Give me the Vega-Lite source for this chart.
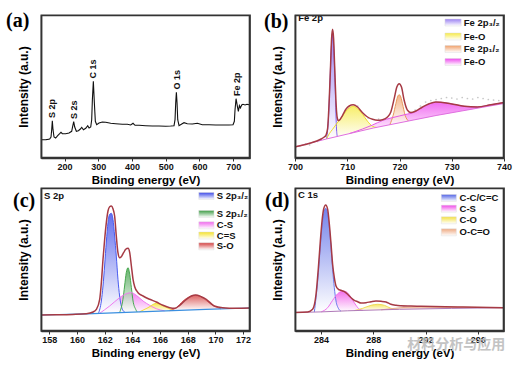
{
"$schema":"https://vega.github.io/schema/vega-lite/v6.json",
"padding":{"left":5,"top":10,"right":2,"bottom":2},
"columns":2,
"spacing":{"row":30,"column":45},
"bounds":"flush",
"resolve":{"scale":{"stroke":"independent"}},
"datasets":{
"a":[{"e":130,"v":18.3},{"e":143.8,"v":18.3},{"e":150,"v":18.6},{"e":155.7,"v":19},{"e":159.7,"v":21},{"e":161.7,"v":28.3},{"e":163.6,"v":37.3},{"e":165.6,"v":28.3},{"e":168.6,"v":21},{"e":173.5,"v":20},{"e":179.5,"v":22.3},{"e":185.4,"v":24.3},{"e":189.3,"v":25.7},{"e":193.3,"v":24.3},{"e":203.2,"v":24.3},{"e":213.1,"v":25},{"e":221,"v":26.7},{"e":224,"v":31.7},{"e":227,"v":36.3},{"e":230,"v":31},{"e":234.9,"v":26.7},{"e":240.9,"v":27.3},{"e":246.8,"v":29},{"e":250.8,"v":30.7},{"e":255.8,"v":28.3},{"e":262.7,"v":29.7},{"e":268.6,"v":32.3},{"e":272.6,"v":30},{"e":277.5,"v":31},{"e":280.4,"v":38.3},{"e":282.4,"v":58.3},{"e":285.3,"v":76.7},{"e":288.3,"v":55},{"e":291.2,"v":36.7},{"e":295.2,"v":33.3},{"e":302.1,"v":35},{"e":312,"v":36},{"e":321.9,"v":35.7},{"e":336.7,"v":34.7},{"e":351.6,"v":34.3},{"e":371.4,"v":33.7},{"e":386.2,"v":33.7},{"e":396.1,"v":33},{"e":403,"v":34.7},{"e":408.9,"v":32.7},{"e":420.8,"v":32.7},{"e":440.6,"v":32.3},{"e":460.4,"v":32},{"e":480.1,"v":32},{"e":499.9,"v":31.7},{"e":514.8,"v":32},{"e":524.6,"v":32.3},{"e":527.6,"v":38.3},{"e":529.6,"v":55},{"e":531.6,"v":65.7},{"e":533.6,"v":55},{"e":535.6,"v":38.3},{"e":539.5,"v":32.3},{"e":547.5,"v":34},{"e":554.3,"v":35.3},{"e":564.1,"v":34.3},{"e":579,"v":34},{"e":593.8,"v":34.7},{"e":608.6,"v":33.3},{"e":628.5,"v":33.3},{"e":648.3,"v":33},{"e":668,"v":33},{"e":687.8,"v":33},{"e":699.7,"v":33.3},{"e":703.6,"v":36.7},{"e":705.6,"v":48.3},{"e":708.6,"v":59.3},{"e":712.6,"v":51.7},{"e":715.5,"v":46.7},{"e":718.5,"v":52.3},{"e":721.5,"v":50},{"e":725.4,"v":53},{"e":729.3,"v":53.7},{"e":735.3,"v":53},{"e":741.2,"v":53.7},{"e":747.2,"v":53.3},{"e":750,"v":53.3}],
"alab":[{"e":162,"v":40,"t":"S 2p"},{"e":227,"v":39,"t":"S 2s"},{"e":285.5,"v":79.5,"t":"C 1s"},{"e":533,"v":68.5,"t":"O 1s"},{"e":710,"v":62,"t":"Fe 2p"}],
"b":[
{"s":"env","e":700,"v":11},{"s":"env","e":701,"v":12.3},{"s":"env","e":702,"v":13.6},{"s":"env","e":703,"v":15},{"s":"env","e":704,"v":16.7},{"s":"env","e":705,"v":19},{"s":"env","e":705.6,"v":21},{"s":"env","e":705.92,"v":22.7},{"s":"env","e":706.24,"v":29.3},{"s":"env","e":706.56,"v":59.3},{"s":"env","e":706.81,"v":92.7},{"s":"env","e":707.0,"v":119.3},{"s":"env","e":707.19,"v":128.7},{"s":"env","e":707.39,"v":119.3},{"s":"env","e":707.58,"v":92.7},{"s":"env","e":707.83,"v":58},{"s":"env","e":707.96,"v":46},{"s":"env","e":708.09,"v":40},{"s":"env","e":708.28,"v":37.5},{"s":"env","e":708.47,"v":37.7},{"s":"env","e":709.11,"v":42.7},{"s":"env","e":709.74,"v":48.7},{"s":"env","e":710.38,"v":52},{"s":"env","e":711.14,"v":53.3},{"s":"env","e":711.97,"v":51},{"s":"env","e":712.93,"v":45.3},{"s":"env","e":713.88,"v":41},{"s":"env","e":714.84,"v":38.7},{"s":"env","e":715.79,"v":37.7},{"s":"env","e":716.75,"v":38.3},{"s":"env","e":717.71,"v":41},{"s":"env","e":718.34,"v":46},{"s":"env","e":718.98,"v":59.3},{"s":"env","e":719.49,"v":71},{"s":"env","e":719.94,"v":74.3},{"s":"env","e":720.38,"v":71},{"s":"env","e":720.89,"v":57.7},{"s":"env","e":721.53,"v":47.7},{"s":"env","e":722.17,"v":45.5},{"s":"env","e":723.12,"v":47},{"s":"env","e":724.4,"v":51},{"s":"env","e":725.67,"v":54.3},{"s":"env","e":726.94,"v":56},{"s":"env","e":727.9,"v":55.7},{"s":"env","e":729.8,"v":54.3},{"s":"env","e":732.4,"v":51.7},{"s":"env","e":734.9,"v":51},{"s":"env","e":737.5,"v":53.3},{"s":"env","e":740,"v":55.5},
{"s":"bg","e":700,"v":11},{"s":"bg","e":706,"v":19},{"s":"bg","e":715,"v":30},{"s":"bg","e":727,"v":42.5},{"s":"bg","e":740,"v":54.5},
{"s":"p32","e":706.05,"v":19.06,"bg":19.06},{"s":"p32","e":706.43,"v":42.7,"bg":19.5},{"s":"p32","e":706.69,"v":76,"bg":19.8},{"s":"p32","e":706.94,"v":109.3,"bg":20.1},{"s":"p32","e":707.19,"v":124.3,"bg":20.5},{"s":"p32","e":707.45,"v":106,"bg":20.8},{"s":"p32","e":707.7,"v":70,"bg":21.1},{"s":"p32","e":707.83,"v":45,"bg":21.2},{"s":"p32","e":707.96,"v":28,"bg":21.4},{"s":"p32","e":708.1,"v":21.6,"bg":21.6},
{"s":"FeO1","e":706.05,"v":19.06,"bg":19.06},{"s":"FeO1","e":706.56,"v":24.3,"bg":19.7},{"s":"FeO1","e":707.19,"v":28.7,"bg":20.5},{"s":"FeO1","e":707.83,"v":33.3,"bg":21.2},{"s":"FeO1","e":708.47,"v":37.7,"bg":22},{"s":"FeO1","e":709.11,"v":42,"bg":22.8},{"s":"FeO1","e":709.74,"v":46.7,"bg":23.6},{"s":"FeO1","e":710.38,"v":50,"bg":24.4},{"s":"FeO1","e":711.14,"v":51.7,"bg":25.3},{"s":"FeO1","e":711.97,"v":49.3,"bg":26.3},{"s":"FeO1","e":712.93,"v":43.7,"bg":27.5},{"s":"FeO1","e":713.88,"v":36.7,"bg":28.6},{"s":"FeO1","e":714.84,"v":31.7,"bg":29.8},{"s":"FeO1","e":715.6,"v":30.6,"bg":30.6},
{"s":"p12","e":718.15,"v":33.3,"bg":33.3},{"s":"p12","e":718.79,"v":42.7,"bg":33.9},{"s":"p12","e":719.3,"v":54.3,"bg":34.5},{"s":"p12","e":719.62,"v":61,"bg":34.8},{"s":"p12","e":719.94,"v":63.3,"bg":35.1},{"s":"p12","e":720.25,"v":61,"bg":35.5},{"s":"p12","e":720.57,"v":54.3,"bg":35.8},{"s":"p12","e":721.08,"v":42.7,"bg":36.3},{"s":"p12","e":721.72,"v":37,"bg":37},
{"s":"FeO2","e":710.38,"v":24.4,"bg":24.4},{"s":"FeO2","e":712.93,"v":29,"bg":27.5},{"s":"FeO2","e":714.84,"v":33,"bg":29.8},{"s":"FeO2","e":716.75,"v":37.5,"bg":31.8},{"s":"FeO2","e":718.34,"v":40,"bg":33.5},{"s":"FeO2","e":719.94,"v":42,"bg":35.1},{"s":"FeO2","e":721.53,"v":44,"bg":36.8},{"s":"FeO2","e":722.5,"v":45,"bg":37.8},{"s":"FeO2","e":723.12,"v":46.5,"bg":38.5},{"s":"FeO2","e":724.4,"v":50.5,"bg":39.8},{"s":"FeO2","e":725.67,"v":54,"bg":41.1},{"s":"FeO2","e":726.94,"v":55.7,"bg":42.4},{"s":"FeO2","e":727.9,"v":55.7,"bg":43.3},{"s":"FeO2","e":729.8,"v":54.3,"bg":45.1},{"s":"FeO2","e":732.4,"v":51.7,"bg":47.5},{"s":"FeO2","e":734.9,"v":51,"bg":49.8},{"s":"FeO2","e":737.5,"v":53.3,"bg":52.2},{"s":"FeO2","e":740,"v":55.5,"bg":54.5}
],
"braw":[{"e":701,"v":12.5},{"e":702,"v":14.2},{"e":702.8,"v":13.2},{"e":703.5,"v":15.8},{"e":704.3,"v":16.5},{"e":705,"v":18.5},{"e":712,"v":52},{"e":714,"v":40},{"e":716,"v":39},{"e":723,"v":48},{"e":724,"v":52},{"e":725,"v":56},{"e":726,"v":57.5},{"e":727,"v":58.5},{"e":728,"v":59.5},{"e":729,"v":60.5},{"e":730,"v":60},{"e":731,"v":59},{"e":732,"v":60.5},{"e":733,"v":59.5},{"e":734,"v":59},{"e":735,"v":60.5},{"e":736,"v":59.5},{"e":737,"v":58.5},{"e":738,"v":58},{"e":739,"v":57.5}],
"c":[
{"s":"env","e":157.4,"v":16},{"s":"env","e":158.5,"v":16.2},{"s":"env","e":159.69,"v":16.6},{"s":"env","e":160.68,"v":17.3},{"s":"env","e":161.16,"v":19},{"s":"env","e":161.4,"v":21.7},{"s":"env","e":161.64,"v":31.7},{"s":"env","e":161.76,"v":48.3},{"s":"env","e":161.88,"v":71.7},{"s":"env","e":162.0,"v":91.7},{"s":"env","e":162.12,"v":108.3},{"s":"env","e":162.24,"v":120},{"s":"env","e":162.36,"v":124.3},{"s":"env","e":162.48,"v":125},{"s":"env","e":162.6,"v":122.3},{"s":"env","e":162.72,"v":115},{"s":"env","e":162.84,"v":95},{"s":"env","e":162.96,"v":78.3},{"s":"env","e":163.08,"v":73.3},{"s":"env","e":163.2,"v":74.3},{"s":"env","e":163.37,"v":78.3},{"s":"env","e":163.52,"v":81.7},{"s":"env","e":163.69,"v":82.7},{"s":"env","e":163.81,"v":78.3},{"s":"env","e":163.93,"v":65},{"s":"env","e":164.05,"v":51.7},{"s":"env","e":164.17,"v":44.3},{"s":"env","e":164.41,"v":38.3},{"s":"env","e":164.77,"v":35},{"s":"env","e":165.25,"v":31.7},{"s":"env","e":165.73,"v":29},{"s":"env","e":166.21,"v":25.7},{"s":"env","e":166.7,"v":23.3},{"s":"env","e":167.06,"v":22.7},{"s":"env","e":167.42,"v":25.7},{"s":"env","e":167.9,"v":31.7},{"s":"env","e":168.26,"v":35},{"s":"env","e":168.57,"v":36},{"s":"env","e":168.98,"v":34.3},{"s":"env","e":169.34,"v":31.7},{"s":"env","e":169.92,"v":25},{"s":"env","e":170.52,"v":23.3},{"s":"env","e":171.49,"v":22.8},{"s":"env","e":172.5,"v":23},
{"s":"bg","e":157.4,"v":16},{"s":"bg","e":160.7,"v":17.2},{"s":"bg","e":165,"v":19.45},{"s":"bg","e":169.3,"v":21.7},{"s":"bg","e":172.5,"v":23},
{"s":"S 2p₃/₂","e":161.55,"v":17.65,"bg":17.65},{"s":"S 2p₃/₂","e":161.76,"v":30,"bg":17.75},{"s":"S 2p₃/₂","e":161.88,"v":45,"bg":17.82},{"s":"S 2p₃/₂","e":162.0,"v":66,"bg":17.88},{"s":"S 2p₃/₂","e":162.12,"v":89,"bg":17.94},{"s":"S 2p₃/₂","e":162.24,"v":108.3,"bg":18},{"s":"S 2p₃/₂","e":162.36,"v":116.7,"bg":18.07},{"s":"S 2p₃/₂","e":162.48,"v":117.7,"bg":18.13},{"s":"S 2p₃/₂","e":162.6,"v":111.7,"bg":18.19},{"s":"S 2p₃/₂","e":162.72,"v":95,"bg":18.26},{"s":"S 2p₃/₂","e":162.84,"v":75,"bg":18.32},{"s":"S 2p₃/₂","e":162.96,"v":51.7,"bg":18.38},{"s":"S 2p₃/₂","e":163.08,"v":35,"bg":18.44},{"s":"S 2p₃/₂","e":163.28,"v":21.7,"bg":18.55},{"s":"S 2p₃/₂","e":163.47,"v":18.65,"bg":18.65},
{"s":"S 2p₁/₂","e":163.08,"v":18.44,"bg":18.44},{"s":"S 2p₁/₂","e":163.32,"v":31.7,"bg":18.57},{"s":"S 2p₁/₂","e":163.44,"v":45,"bg":18.63},{"s":"S 2p₁/₂","e":163.56,"v":58.3,"bg":18.7},{"s":"S 2p₁/₂","e":163.69,"v":63.3,"bg":18.76},{"s":"S 2p₁/₂","e":163.81,"v":56.7,"bg":18.83},{"s":"S 2p₁/₂","e":163.93,"v":43.3,"bg":18.89},{"s":"S 2p₁/₂","e":164.05,"v":30,"bg":18.95},{"s":"S 2p₁/₂","e":164.24,"v":21.7,"bg":19.05},{"s":"S 2p₁/₂","e":164.34,"v":19.1,"bg":19.1},
{"s":"C-S","e":161.64,"v":17.69,"bg":17.69},{"s":"C-S","e":162.36,"v":25,"bg":18.07},{"s":"C-S","e":163.08,"v":33.3,"bg":18.44},{"s":"C-S","e":163.56,"v":37.3,"bg":18.7},{"s":"C-S","e":163.93,"v":38.3,"bg":18.89},{"s":"C-S","e":164.29,"v":35.7,"bg":19.08},{"s":"C-S","e":164.77,"v":30,"bg":19.33},{"s":"C-S","e":165.25,"v":25.7,"bg":19.58},{"s":"C-S","e":165.73,"v":22.3,"bg":19.83},{"s":"C-S","e":166.33,"v":20.14,"bg":20.14},
{"s":"C=S","e":164.53,"v":19.2,"bg":19.2},{"s":"C=S","e":165.13,"v":23.3,"bg":19.52},{"s":"C=S","e":165.73,"v":27.7,"bg":19.83},{"s":"C=S","e":166.33,"v":24.3,"bg":20.14},{"s":"C=S","e":166.98,"v":20.48,"bg":20.48},
{"s":"S-O","e":166.7,"v":20.34,"bg":20.34},{"s":"S-O","e":167.18,"v":23.3,"bg":20.59},{"s":"S-O","e":167.66,"v":30,"bg":20.84},{"s":"S-O","e":168.14,"v":34.3,"bg":21.09},{"s":"S-O","e":168.57,"v":35.7,"bg":21.32},{"s":"S-O","e":168.98,"v":34.3,"bg":21.53},{"s":"S-O","e":169.32,"v":30.7,"bg":21.71},{"s":"S-O","e":169.8,"v":25.7,"bg":21.9},{"s":"S-O","e":170.4,"v":22.15,"bg":22.15}
],
"d":[
{"s":"env","e":282,"v":18.6},{"s":"env","e":282.97,"v":19},{"s":"env","e":283.35,"v":21.7},{"s":"env","e":283.61,"v":36.7},{"s":"env","e":283.79,"v":63.3},{"s":"env","e":283.94,"v":90},{"s":"env","e":284.07,"v":110},{"s":"env","e":284.19,"v":121.7},{"s":"env","e":284.35,"v":126},{"s":"env","e":284.5,"v":121.7},{"s":"env","e":284.63,"v":106.7},{"s":"env","e":284.76,"v":86.7},{"s":"env","e":284.88,"v":66.7},{"s":"env","e":285.01,"v":53.3},{"s":"env","e":285.14,"v":45},{"s":"env","e":285.32,"v":41.7},{"s":"env","e":285.52,"v":40.7},{"s":"env","e":285.78,"v":39.3},{"s":"env","e":286.03,"v":36.7},{"s":"env","e":286.29,"v":33.3},{"s":"env","e":286.54,"v":30.7},{"s":"env","e":286.8,"v":29.3},{"s":"env","e":287.05,"v":28},{"s":"env","e":287.44,"v":28.3},{"s":"env","e":287.82,"v":29.3},{"s":"env","e":288.2,"v":30},{"s":"env","e":288.59,"v":29.7},{"s":"env","e":288.97,"v":29},{"s":"env","e":289.34,"v":26.7},{"s":"env","e":289.73,"v":25.7},{"s":"env","e":290.11,"v":25.3},{"s":"env","e":290.88,"v":25},{"s":"env","e":291.65,"v":24.7},{"s":"env","e":294.45,"v":24},{"s":"env","e":298,"v":23.3},
{"s":"bg","e":282,"v":18.5},{"s":"bg","e":284,"v":19.1},{"s":"bg","e":286,"v":20.2},{"s":"bg","e":290,"v":21.7},{"s":"bg","e":294,"v":22.6},{"s":"bg","e":298,"v":23.3},
{"s":"C-C/C=C","e":283.48,"v":18.94,"bg":18.94},{"s":"C-C/C=C","e":283.61,"v":33.3,"bg":18.98},{"s":"C-C/C=C","e":283.79,"v":58.3,"bg":19.04},{"s":"C-C/C=C","e":283.94,"v":85,"bg":19.08},{"s":"C-C/C=C","e":284.07,"v":105,"bg":19.14},{"s":"C-C/C=C","e":284.19,"v":117.3,"bg":19.2},{"s":"C-C/C=C","e":284.35,"v":122.7,"bg":19.29},{"s":"C-C/C=C","e":284.5,"v":117.3,"bg":19.38},{"s":"C-C/C=C","e":284.63,"v":103.3,"bg":19.45},{"s":"C-C/C=C","e":284.76,"v":83.3,"bg":19.52},{"s":"C-C/C=C","e":284.88,"v":61.7,"bg":19.58},{"s":"C-C/C=C","e":285.01,"v":43.3,"bg":19.66},{"s":"C-C/C=C","e":285.14,"v":30,"bg":19.73},{"s":"C-C/C=C","e":285.32,"v":22.7,"bg":19.83},{"s":"C-C/C=C","e":285.52,"v":19.94,"bg":19.94},
{"s":"C-S","e":284,"v":19.1,"bg":19.1},{"s":"C-S","e":284.5,"v":23.3,"bg":19.38},{"s":"C-S","e":284.88,"v":30.7,"bg":19.58},{"s":"C-S","e":285.27,"v":37.3,"bg":19.8},{"s":"C-S","e":285.65,"v":40,"bg":20},{"s":"C-S","e":285.91,"v":39.3,"bg":20.15},{"s":"C-S","e":286.16,"v":36,"bg":20.26},{"s":"C-S","e":286.42,"v":30.7,"bg":20.36},{"s":"C-S","e":286.67,"v":25.7,"bg":20.45},{"s":"C-S","e":286.93,"v":21.7,"bg":20.55},{"s":"C-S","e":287.19,"v":20.65,"bg":20.65},
{"s":"C-O","e":286.54,"v":20.4,"bg":20.4},{"s":"C-O","e":287.19,"v":22.7,"bg":20.65},{"s":"C-O","e":287.82,"v":25.7,"bg":20.88},{"s":"C-O","e":288.33,"v":26.7,"bg":21.07},{"s":"C-O","e":288.84,"v":25.7,"bg":21.27},{"s":"C-O","e":289.34,"v":22.7,"bg":21.45},{"s":"C-O","e":289.86,"v":21.65,"bg":21.65},
{"s":"O-C=O","e":288.59,"v":21.17,"bg":21.17},{"s":"O-C=O","e":289.34,"v":22.3,"bg":21.45},{"s":"O-C=O","e":290.11,"v":23.3,"bg":21.72},{"s":"O-C=O","e":290.88,"v":24,"bg":21.9},{"s":"O-C=O","e":291.65,"v":24.3,"bg":22.07},{"s":"O-C=O","e":293.2,"v":24,"bg":22.4},{"s":"O-C=O","e":295.7,"v":23.6,"bg":22.9},{"s":"O-C=O","e":298,"v":23.3,"bg":23.3}
]
},
"concat":[
{"width":209,"height":143,
 "title":{"text":"(a)","dx":-35,"offset":-18},
 "data":{"name":"a"},
 "encoding":{
  "x":{"field":"e","type":"quantitative","scale":{"domain":[130,750],"nice":false,"zero":false},"axis":{"values":[200,300,400,500,600,700],"title":"Binding energy (eV)"}},
  "y":{"field":"v","type":"quantitative","scale":{"domain":[0,143],"nice":false,"zero":false},"axis":{"title":"Intensity (a.u.)"}}
 },
 "layer":[
  {"mark":{"type":"line","color":"#111111","strokeWidth":1.1}},
  {"data":{"name":"alab"},"mark":{"type":"text","angle":270,"align":"left","baseline":"middle","fontSize":9,"fontWeight":"bold","color":"#111111"},"encoding":{"text":{"field":"t","type":"nominal"}}},
  {"data":{"values":[{"i":0,"e":131.8,"v":0.6},{"i":1,"e":748.2,"v":0.6},{"i":2,"e":748.2,"v":142.4},{"i":3,"e":131.8,"v":142.4},{"i":4,"e":131.8,"v":0.6}]},"mark":{"type":"line","color":"#333333","strokeWidth":1.4},"encoding":{"order":{"field":"i","type":"quantitative"}}}
 ]
},
{"width":209,"height":143,
 "title":{"text":"(b)","dx":-31,"offset":-19},
 "data":{"name":"b"},
 "encoding":{
  "x":{"field":"e","type":"quantitative","scale":{"domain":[700,740],"nice":false,"zero":false},"axis":{"values":[700,710,720,730,740],"title":"Binding energy (eV)"}},
  "y":{"field":"v","type":"quantitative","scale":{"domain":[0,143],"nice":false,"zero":false},"axis":{"title":"Intensity (a.u.)"}}
 },
 "layer":[
  {"transform":[{"filter":"datum.s == 'FeO2'"}],"mark":{"type":"area","interpolate":"monotone","fillOpacity":0.8,"fill":{"gradient":"linear","x1":0,"y1":0,"x2":0,"y2":1,"stops":[{"offset":0,"color":"#ee48ee"},{"offset":1,"color":"#ffffff"}]}},"encoding":{"y2":{"field":"bg"}}},
  {"transform":[{"filter":"datum.s == 'FeO1'"}],"mark":{"type":"area","interpolate":"monotone","fillOpacity":0.8,"fill":{"gradient":"linear","x1":0,"y1":0,"x2":0,"y2":1,"stops":[{"offset":0,"color":"#f6ea45"},{"offset":1,"color":"#ffffff"}]}},"encoding":{"y2":{"field":"bg"}}},
  {"transform":[{"filter":"datum.s == 'p12'"}],"mark":{"type":"area","interpolate":"monotone","fillOpacity":0.8,"fill":{"gradient":"linear","x1":0,"y1":0,"x2":0,"y2":1,"stops":[{"offset":0,"color":"#f0a06a"},{"offset":1,"color":"#ffffff"}]}},"encoding":{"y2":{"field":"bg"}}},
  {"transform":[{"filter":"datum.s == 'p32'"}],"mark":{"type":"area","interpolate":"monotone","fillOpacity":0.8,"fill":{"gradient":"linear","x1":0,"y1":0,"x2":0,"y2":1,"stops":[{"offset":0,"color":"#8466f0"},{"offset":1,"color":"#ffffff"}]}},"encoding":{"y2":{"field":"bg"}}},
  {"transform":[{"filter":"isValid(datum.bg)"}],"mark":{"type":"line","interpolate":"monotone","strokeWidth":1},
   "encoding":{"stroke":{"field":"s","type":"nominal","scale":{"domain":["p32","FeO1","p12","FeO2"],"range":["#7c5cf0","#eedc2c","#e8985c","#e458e4"]},"legend":null}}},
  {"data":{"name":"braw"},"mark":{"type":"circle","size":3,"color":"#b8b8b8","opacity":0.8}},
  {"transform":[{"filter":"datum.s == 'bg'"}],"mark":{"type":"line","color":"#e070e0","strokeWidth":1}},
  {"transform":[{"filter":"datum.s == 'env'"}],"mark":{"type":"line","interpolate":"monotone","color":"#a63a44","strokeWidth":1.5}},
  {"data":{"values":[{"e":700.6,"v":140,"t":"Fe 2p"},{"e":732.3,"v":135.5,"t":"Fe 2p₃/₂"},{"e":732.3,"v":121.5,"t":"Fe-O"},{"e":732.3,"v":109,"t":"Fe 2p₁/₂"},{"e":732.3,"v":96,"t":"Fe-O"}]},"mark":{"type":"text","align":"left","baseline":"middle","fontSize":9.5,"fontWeight":"bold","color":"#111111"},"encoding":{"text":{"field":"t","type":"nominal"}}},
  {"data":{"values":[{"e":728.7,"e2":731.8,"v":139,"v2":132}]},"mark":{"type":"rect","stroke":"#dddddd","strokeWidth":0.5,"fill":{"gradient":"linear","x1":0,"y1":0,"x2":0,"y2":1,"stops":[{"offset":0,"color":"#9a80f2"},{"offset":1,"color":"#ffffff"}]}},"encoding":{"x2":{"field":"e2"},"y2":{"field":"v2"}}},
  {"data":{"values":[{"e":728.7,"e2":731.8,"v":125,"v2":118}]},"mark":{"type":"rect","stroke":"#dddddd","strokeWidth":0.5,"fill":{"gradient":"linear","x1":0,"y1":0,"x2":0,"y2":1,"stops":[{"offset":0,"color":"#f6ea45"},{"offset":1,"color":"#ffffff"}]}},"encoding":{"x2":{"field":"e2"},"y2":{"field":"v2"}}},
  {"data":{"values":[{"e":728.7,"e2":731.8,"v":112.5,"v2":105.5}]},"mark":{"type":"rect","stroke":"#dddddd","strokeWidth":0.5,"fill":{"gradient":"linear","x1":0,"y1":0,"x2":0,"y2":1,"stops":[{"offset":0,"color":"#f0a06a"},{"offset":1,"color":"#ffffff"}]}},"encoding":{"x2":{"field":"e2"},"y2":{"field":"v2"}}},
  {"data":{"values":[{"e":728.7,"e2":731.8,"v":99.5,"v2":92.5}]},"mark":{"type":"rect","stroke":"#dddddd","strokeWidth":0.5,"fill":{"gradient":"linear","x1":0,"y1":0,"x2":0,"y2":1,"stops":[{"offset":0,"color":"#ee48ee"},{"offset":1,"color":"#ffffff"}]}},"encoding":{"x2":{"field":"e2"},"y2":{"field":"v2"}}},
  {"data":{"values":[{"i":0,"e":700.115,"v":0.6},{"i":1,"e":739.885,"v":0.6},{"i":2,"e":739.885,"v":142.4},{"i":3,"e":700.115,"v":142.4},{"i":4,"e":700.115,"v":0.6}]},"mark":{"type":"line","color":"#333333","strokeWidth":1.4},"encoding":{"order":{"field":"i","type":"quantitative"}}}
 ]
},
{"width":209,"height":143,
 "title":{"text":"(c)","dx":-28,"offset":-25},
 "data":{"name":"c"},
 "encoding":{
  "x":{"field":"e","type":"quantitative","scale":{"domain":[157.4,172.5],"nice":false,"zero":false},"axis":{"values":[158,160,162,164,166,168,170,172],"title":"Binding energy (eV)"}},
  "y":{"field":"v","type":"quantitative","scale":{"domain":[0,143],"nice":false,"zero":false},"axis":{"title":"Intensity (a.u.)"}}
 },
 "layer":[
  {"transform":[{"filter":"datum.s == 'C-S'"}],"mark":{"type":"area","interpolate":"monotone","fillOpacity":0.8,"fill":{"gradient":"linear","x1":0,"y1":0,"x2":0,"y2":1,"stops":[{"offset":0,"color":"#f066ee"},{"offset":1,"color":"#ffffff"}]}},"encoding":{"y2":{"field":"bg"}}},
  {"transform":[{"filter":"datum.s == 'C=S'"}],"mark":{"type":"area","interpolate":"monotone","fillOpacity":0.8,"fill":{"gradient":"linear","x1":0,"y1":0,"x2":0,"y2":1,"stops":[{"offset":0,"color":"#f5e228"},{"offset":1,"color":"#ffffff"}]}},"encoding":{"y2":{"field":"bg"}}},
  {"transform":[{"filter":"datum.s == 'S-O'"}],"mark":{"type":"area","interpolate":"monotone","fillOpacity":0.8,"fill":{"gradient":"linear","x1":0,"y1":0,"x2":0,"y2":1,"stops":[{"offset":0,"color":"#d43e3e"},{"offset":1,"color":"#ffffff"}]}},"encoding":{"y2":{"field":"bg"}}},
  {"transform":[{"filter":"datum.s == 'S 2p₃/₂'"}],"mark":{"type":"area","interpolate":"monotone","fillOpacity":0.8,"fill":{"gradient":"linear","x1":0,"y1":0,"x2":0,"y2":1,"stops":[{"offset":0,"color":"#3d4ae8"},{"offset":1,"color":"#ffffff"}]}},"encoding":{"y2":{"field":"bg"}}},
  {"transform":[{"filter":"datum.s == 'S 2p₁/₂'"}],"mark":{"type":"area","interpolate":"monotone","fillOpacity":0.8,"fill":{"gradient":"linear","x1":0,"y1":0,"x2":0,"y2":1,"stops":[{"offset":0,"color":"#3d9c45"},{"offset":1,"color":"#ffffff"}]}},"encoding":{"y2":{"field":"bg"}}},
  {"transform":[{"filter":"isValid(datum.bg)"}],"mark":{"type":"line","interpolate":"monotone","strokeWidth":1},
   "encoding":{"stroke":{"field":"s","type":"nominal","scale":{"domain":["S 2p₃/₂","S 2p₁/₂","C-S","C=S","S-O"],"range":["#4a5cf0","#47a94f","#f07cf0","#f0dc40","#dd5a5a"]},"legend":null}}},
  {"transform":[{"filter":"datum.s == 'bg'"}],"mark":{"type":"line","color":"#3a8fe0","strokeWidth":1.2}},
  {"transform":[{"filter":"datum.s == 'env'"}],"mark":{"type":"line","interpolate":"monotone","color":"#a63a44","strokeWidth":1.5}},
  {"data":{"values":[{"e":157.62,"v":135.5,"t":"S 2p"},{"e":170.1,"v":135,"t":"S 2p₃/₂"},{"e":170.1,"v":117,"t":"S 2p₁/₂"},{"e":170.1,"v":105.7,"t":"C-S"},{"e":170.1,"v":95.5,"t":"C=S"},{"e":170.1,"v":84.7,"t":"S-O"}]},"mark":{"type":"text","align":"left","baseline":"middle","fontSize":9.5,"fontWeight":"bold","color":"#111111"},"encoding":{"text":{"field":"t","type":"nominal"}}},
  {"data":{"values":[{"e":168.8,"e2":169.9,"v":138.5,"v2":131.5}]},"mark":{"type":"rect","stroke":"#dddddd","strokeWidth":0.5,"fill":{"gradient":"linear","x1":0,"y1":0,"x2":0,"y2":1,"stops":[{"offset":0,"color":"#3d4ae8"},{"offset":1,"color":"#ffffff"}]}},"encoding":{"x2":{"field":"e2"},"y2":{"field":"v2"}}},
  {"data":{"values":[{"e":168.8,"e2":169.9,"v":120.5,"v2":113.5}]},"mark":{"type":"rect","stroke":"#dddddd","strokeWidth":0.5,"fill":{"gradient":"linear","x1":0,"y1":0,"x2":0,"y2":1,"stops":[{"offset":0,"color":"#3d9c45"},{"offset":1,"color":"#ffffff"}]}},"encoding":{"x2":{"field":"e2"},"y2":{"field":"v2"}}},
  {"data":{"values":[{"e":168.8,"e2":169.9,"v":109.2,"v2":102.2}]},"mark":{"type":"rect","stroke":"#dddddd","strokeWidth":0.5,"fill":{"gradient":"linear","x1":0,"y1":0,"x2":0,"y2":1,"stops":[{"offset":0,"color":"#f066ee"},{"offset":1,"color":"#ffffff"}]}},"encoding":{"x2":{"field":"e2"},"y2":{"field":"v2"}}},
  {"data":{"values":[{"e":168.8,"e2":169.9,"v":99,"v2":92}]},"mark":{"type":"rect","stroke":"#dddddd","strokeWidth":0.5,"fill":{"gradient":"linear","x1":0,"y1":0,"x2":0,"y2":1,"stops":[{"offset":0,"color":"#f5e228"},{"offset":1,"color":"#ffffff"}]}},"encoding":{"x2":{"field":"e2"},"y2":{"field":"v2"}}},
  {"data":{"values":[{"e":168.8,"e2":169.9,"v":88.2,"v2":81.2}]},"mark":{"type":"rect","stroke":"#dddddd","strokeWidth":0.5,"fill":{"gradient":"linear","x1":0,"y1":0,"x2":0,"y2":1,"stops":[{"offset":0,"color":"#d43e3e"},{"offset":1,"color":"#ffffff"}]}},"encoding":{"x2":{"field":"e2"},"y2":{"field":"v2"}}},
  {"data":{"values":[{"i":0,"e":157.443,"v":0.6},{"i":1,"e":172.457,"v":0.6},{"i":2,"e":172.457,"v":142.4},{"i":3,"e":157.443,"v":142.4},{"i":4,"e":157.443,"v":0.6}]},"mark":{"type":"line","color":"#333333","strokeWidth":1.4},"encoding":{"order":{"field":"i","type":"quantitative"}}}
 ]
},
{"width":209,"height":143,
 "title":{"text":"(d)","dx":-30,"offset":-25},
 "data":{"name":"d"},
 "encoding":{
  "x":{"field":"e","type":"quantitative","scale":{"domain":[282,298],"nice":false,"zero":false},"axis":{"values":[284,288,292,296],"title":"Binding energy (eV)"}},
  "y":{"field":"v","type":"quantitative","scale":{"domain":[0,143],"nice":false,"zero":false},"axis":{"title":"Intensity (a.u.)"}}
 },
 "layer":[
  {"transform":[{"filter":"datum.s == 'O-C=O'"}],"mark":{"type":"area","interpolate":"monotone","fillOpacity":0.8,"fill":{"gradient":"linear","x1":0,"y1":0,"x2":0,"y2":1,"stops":[{"offset":0,"color":"#eea880"},{"offset":1,"color":"#ffffff"}]}},"encoding":{"y2":{"field":"bg"}}},
  {"transform":[{"filter":"datum.s == 'C-O'"}],"mark":{"type":"area","interpolate":"monotone","fillOpacity":0.8,"fill":{"gradient":"linear","x1":0,"y1":0,"x2":0,"y2":1,"stops":[{"offset":0,"color":"#f4e040"},{"offset":1,"color":"#ffffff"}]}},"encoding":{"y2":{"field":"bg"}}},
  {"transform":[{"filter":"datum.s == 'C-S'"}],"mark":{"type":"area","interpolate":"monotone","fillOpacity":0.8,"fill":{"gradient":"linear","x1":0,"y1":0,"x2":0,"y2":1,"stops":[{"offset":0,"color":"#f04ae8"},{"offset":1,"color":"#ffffff"}]}},"encoding":{"y2":{"field":"bg"}}},
  {"transform":[{"filter":"datum.s == 'C-C/C=C'"}],"mark":{"type":"area","interpolate":"monotone","fillOpacity":0.8,"fill":{"gradient":"linear","x1":0,"y1":0,"x2":0,"y2":1,"stops":[{"offset":0,"color":"#5264e6"},{"offset":1,"color":"#ffffff"}]}},"encoding":{"y2":{"field":"bg"}}},
  {"transform":[{"filter":"isValid(datum.bg)"}],"mark":{"type":"line","interpolate":"monotone","strokeWidth":1},
   "encoding":{"stroke":{"field":"s","type":"nominal","scale":{"domain":["C-C/C=C","C-S","C-O","O-C=O"],"range":["#6a78ee","#f070ec","#f0dc5a","#eab090"]},"legend":null}}},
  {"transform":[{"filter":"datum.s == 'bg'"}],"mark":{"type":"line","color":"#b07ab8","strokeWidth":1}},
  {"transform":[{"filter":"datum.s == 'env'"}],"mark":{"type":"line","interpolate":"monotone","color":"#a63a44","strokeWidth":1.5}},
  {"data":{"values":[{"e":282.23,"v":136.5,"t":"C 1s"},{"e":294.6,"v":133,"t":"C-C/C=C"},{"e":294.6,"v":122.3,"t":"C-S"},{"e":294.6,"v":110.7,"t":"C-O"},{"e":294.6,"v":98.7,"t":"O-C=O"}]},"mark":{"type":"text","align":"left","baseline":"middle","fontSize":9.5,"fontWeight":"bold","color":"#111111"},"encoding":{"text":{"field":"t","type":"nominal"}}},
  {"data":{"values":[{"e":293.2,"e2":294.35,"v":136.5,"v2":129.5}]},"mark":{"type":"rect","stroke":"#dddddd","strokeWidth":0.5,"fill":{"gradient":"linear","x1":0,"y1":0,"x2":0,"y2":1,"stops":[{"offset":0,"color":"#5264e6"},{"offset":1,"color":"#ffffff"}]}},"encoding":{"x2":{"field":"e2"},"y2":{"field":"v2"}}},
  {"data":{"values":[{"e":293.2,"e2":294.35,"v":125.8,"v2":118.8}]},"mark":{"type":"rect","stroke":"#dddddd","strokeWidth":0.5,"fill":{"gradient":"linear","x1":0,"y1":0,"x2":0,"y2":1,"stops":[{"offset":0,"color":"#f04ae8"},{"offset":1,"color":"#ffffff"}]}},"encoding":{"x2":{"field":"e2"},"y2":{"field":"v2"}}},
  {"data":{"values":[{"e":293.2,"e2":294.35,"v":114.2,"v2":107.2}]},"mark":{"type":"rect","stroke":"#dddddd","strokeWidth":0.5,"fill":{"gradient":"linear","x1":0,"y1":0,"x2":0,"y2":1,"stops":[{"offset":0,"color":"#f4e040"},{"offset":1,"color":"#ffffff"}]}},"encoding":{"x2":{"field":"e2"},"y2":{"field":"v2"}}},
  {"data":{"values":[{"e":293.2,"e2":294.35,"v":102.2,"v2":95.2}]},"mark":{"type":"rect","stroke":"#dddddd","strokeWidth":0.5,"fill":{"gradient":"linear","x1":0,"y1":0,"x2":0,"y2":1,"stops":[{"offset":0,"color":"#eea880"},{"offset":1,"color":"#ffffff"}]}},"encoding":{"x2":{"field":"e2"},"y2":{"field":"v2"}}},
  {"data":{"values":[{"e":298.1,"v":-14,"t":"材料分析与应用"}]},"mark":{"type":"text","align":"right","baseline":"middle","font":"Noto Sans CJK SC","fontSize":14,"fontWeight":"bold","color":"#bdbdbd","opacity":0.9},"encoding":{"text":{"field":"t","type":"nominal"}}},
  {"data":{"values":[{"i":0,"e":282.046,"v":0.6},{"i":1,"e":297.954,"v":0.6},{"i":2,"e":297.954,"v":142.4},{"i":3,"e":282.046,"v":142.4},{"i":4,"e":282.046,"v":0.6}]},"mark":{"type":"line","color":"#333333","strokeWidth":1.4},"encoding":{"order":{"field":"i","type":"quantitative"}}}
 ]
}
],
"config":{
 "font":"Liberation Sans",
 "view":{"stroke":"#333333","strokeWidth":1.3},
 "axis":{"labelFont":"Liberation Sans","labelFontSize":9,"labelFontWeight":"bold","labelColor":"#111111","titleFont":"Liberation Sans","titleFontWeight":"bold","titleColor":"#000000","tickColor":"#333333","tickSize":3,"labelPadding":1,"grid":false,"domain":true,"domainColor":"#333333","domainWidth":1.3,"labelFlush":false,"labelOverlap":false},
 "axisX":{"titleFontSize":11.5,"titlePadding":3},
 "axisY":{"titleFontSize":12,"titlePadding":11,"labels":false,"ticks":false},
 "title":{"anchor":"start","frame":"group","font":"Liberation Serif","fontSize":20,"fontWeight":"bold","color":"#000000","baseline":"top"}
}
}
